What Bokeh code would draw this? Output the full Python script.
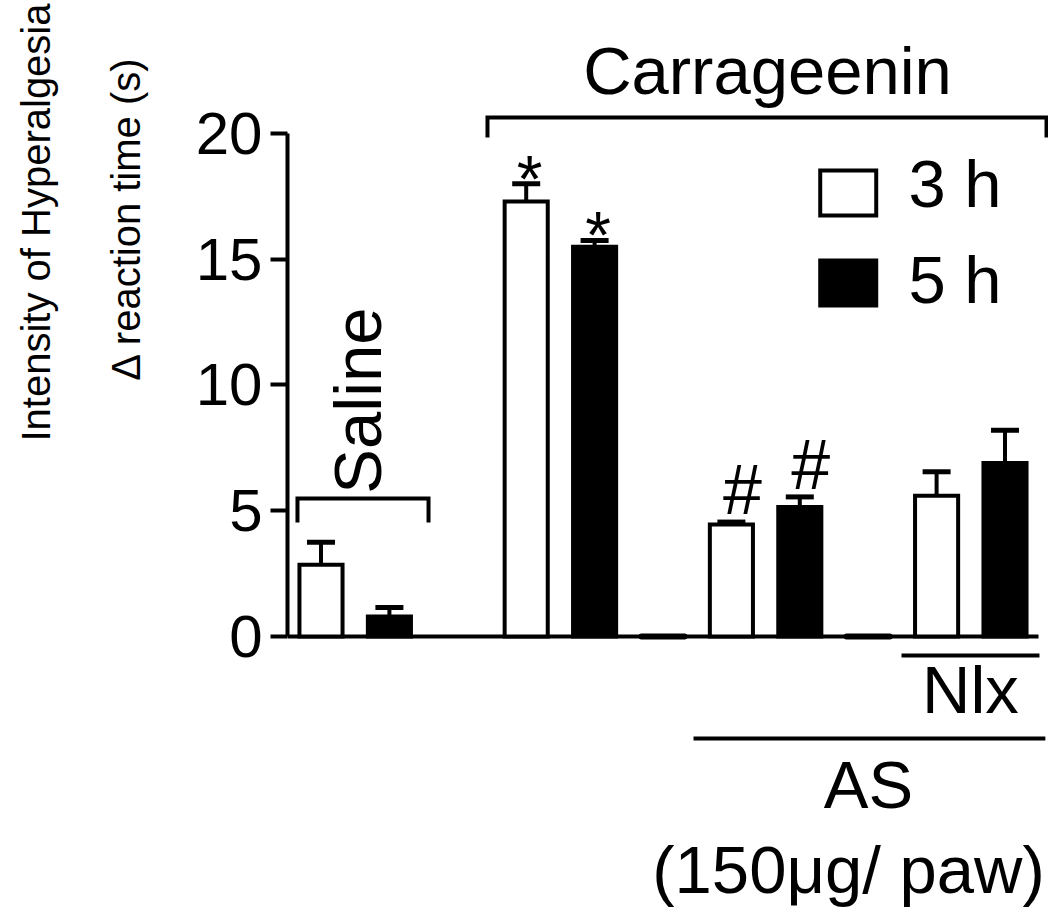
import math
from bokeh.plotting import figure
from bokeh.layouts import row
from bokeh.models import ColumnDataSource, Range1d, FixedTicker, Whisker, TeeHead
from bokeh.core.properties import value
from bokeh.embed import file_html
from bokeh.resources import INLINE

# ---------------- data ----------------
series = ["3 h", "5 h"]
slots_3h = [0, 3, 6, 9]          # Saline, Carrageenin, AS, AS + Nlx
values_3h = [2.85, 17.3, 4.45, 5.6]
errors_3h = [0.9, 0.7, 0.1, 0.95]
slots_5h = [1, 4, 7, 10]
values_5h = [0.8, 15.5, 5.15, 6.9]
errors_5h = [0.35, 0.25, 0.4, 1.3]
slots_blank = [5, 8]
values_blank = [0, 0]
sig_slots = [3, 4, 6, 7]
sig_marks = ["*", "*", "#", "#"]
y_ticks = [0, 5, 10, 15, 20]
y_title = ["Intensity of Hyperalgesia", "\u0394 reaction time (s)"]

FONT = "Liberation Sans"
BAR_W = 0.63
TOTAL_H = 909
LEFT_W = 170
MAIN_W = 878

# ---------------- left panel: y-axis title ----------------
t = figure(width=LEFT_W, height=TOTAL_H, output_backend="svg", toolbar_location=None,
           x_axis_type=None, y_axis_type=None, x_range=Range1d(0, LEFT_W), y_range=Range1d(0, TOTAL_H),
           min_border=0)
t.outline_line_color = None
t.grid.visible = False
t.text(x=[50 - 15, 140 - 15], y=[TOTAL_H - 222, TOTAL_H - 218], text=y_title, angle=math.pi / 2,
       text_font=value(FONT), text_font_size="40px", text_align="center",
       text_baseline="alphabetic", text_color="black")

# ---------------- main chart ----------------
p = figure(width=MAIN_W, height=TOTAL_H, output_backend="svg", toolbar_location=None,
           x_axis_type=None, x_range=Range1d(-0.4898, 10.636), y_range=Range1d(-10.855, 25.288),
           min_border_left=117, min_border_right=0, min_border_top=0, min_border_bottom=0)
p.outline_line_color = None
p.grid.visible = False
p.background_fill_color = "white"
p.border_fill_color = "white"

ax = p.yaxis[0]
ax.bounds = (0, 20)
ax.ticker = FixedTicker(ticks=y_ticks)
ax.minor_tick_line_color = None
ax.major_tick_in = 0
ax.major_tick_out = 17
ax.axis_line_width = 4
ax.major_tick_line_width = 4
ax.axis_line_color = "black"
ax.major_tick_line_color = "black"
ax.major_label_text_font = FONT
ax.major_label_text_font_size = "60px"
ax.major_label_text_color = "black"
ax.major_label_standoff = 8

# baseline (x axis line)
p.segment(x0=[-0.4898], y0=[0], x1=[10.49], y1=[0], line_color="black", line_width=4)

# bars with error bars
src3 = ColumnDataSource(dict(x=slots_3h, top=values_3h,
                             upper=[v + e for v, e in zip(values_3h, errors_3h)]))
src5 = ColumnDataSource(dict(x=slots_5h, top=values_5h,
                             upper=[v + e for v, e in zip(values_5h, errors_5h)]))
srcb = ColumnDataSource(dict(x=slots_blank, top=values_blank))

for src in (src3, src5):
    p.add_layout(Whisker(source=src, base="x", upper="upper", lower="top", dimension="height",
                         line_color="black", line_width=4, lower_head=None,
                         upper_head=TeeHead(size=28, line_width=5, line_color="black")))

p.vbar(x="x", top="top", bottom=0, width=BAR_W, source=src3, fill_color="white",
       line_color="black", line_width=4, line_join="miter")
p.vbar(x="x", top="top", bottom=0, width=BAR_W, source=src5, fill_color="black",
       line_color="black", line_width=4, line_join="miter")
p.vbar(x="x", top="top", bottom=0, width=BAR_W, source=srcb, fill_color="black",
       line_color="black", line_width=6, line_join="round")

# significance marks
all_slots = slots_3h + slots_5h
all_upper = [v + e for v, e in zip(values_3h, errors_3h)] + [v + e for v, e in zip(values_5h, errors_5h)]
ax_s, ay_s, hx_s, hy_s = [], [], [], []
for s, m in zip(sig_slots, sig_marks):
    u = all_upper[all_slots.index(s)]
    if m == "*":
        ax_s.append(s + 0.05); ay_s.append(u + 0.21)
    else:
        hx_s.append(s + 0.16); hy_s.append(u + 1.27)
p.text(x=ax_s, y=ay_s, text=["*"] * len(ax_s), text_font=value(FONT), text_font_size="66px",
       text_align="center", text_baseline="alphabetic", text_color="black")
p.text(x=hx_s, y=hy_s, text=["#"] * len(hx_s), text_font=value(FONT), text_font_size="70px",
       text_align="center", text_baseline="alphabetic", text_color="black")

# brackets and group lines
p.multi_line(xs=[[-0.344, -0.344, 1.572, 1.572], [2.434, 2.434, 10.607, 10.607]],
             ys=[[4.53, 5.49, 5.49, 4.53], [19.84, 20.64, 20.64, 19.84]],
             line_color="black", line_width=4, line_join="miter")
p.multi_line(xs=[[8.487, 10.504], [5.446, 10.59]], ys=[[-0.755, -0.755], [-4.056, -4.056]],
             line_color="black", line_width=4)

# group texts
p.text(x=[0.537], y=[9.38], text=["Saline"], angle=math.pi / 2, text_font=value(FONT),
       text_font_size="67px", text_align="center", text_baseline="alphabetic", text_color="black")
p.text(x=[6.528, 9.495, 8.004, 7.712], y=[22.50, -2.11, -5.89, -9.27],
       text=["Carrageenin", "Nlx", "AS", "(150\u03bcg/ paw)"], text_font=value(FONT),
       text_font_size="67px", text_align="center", text_baseline="alphabetic", text_color="black")

# legend
p.rect(x=[7.708], y=[17.63], width=56, height=45, width_units="screen", height_units="screen",
       fill_color="white", line_color="black", line_width=4, line_join="miter")
p.rect(x=[7.708], y=[14.06], width=56, height=45, width_units="screen", height_units="screen",
       fill_color="black", line_color="black", line_width=4, line_join="miter")
p.text(x=[8.589, 8.589], y=[18.01, 14.19], text=series, text_font=value(FONT),
       text_font_size="67px", text_align="left", text_baseline="alphabetic", text_color="black")

layout = row(t, p)
open("out.html", "w").write(file_html(layout, INLINE))
